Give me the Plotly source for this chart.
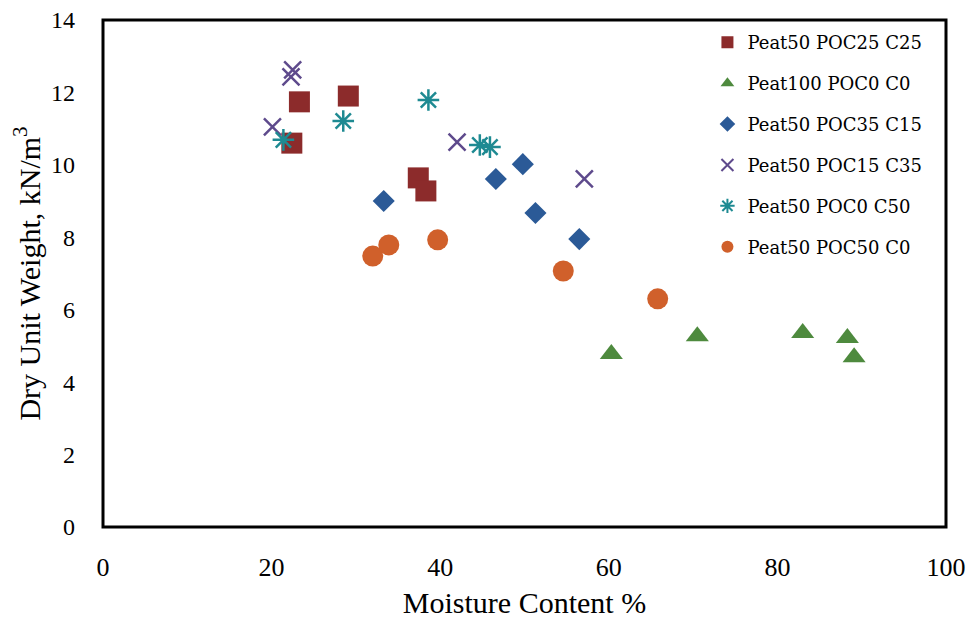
import plotly.graph_objects as go

# ---- data ----
names = ["Peat50 POC25 C25", "Peat100 POC0 C0", "Peat50 POC35 C15",
         "Peat50 POC15 C35", "Peat50 POC0 C50", "Peat50 POC50 C0"]

mc_p50_poc25_c25 = [23.3, 29.1, 22.4, 37.4, 38.3]
dw_p50_poc25_c25 = [11.74, 11.90, 10.60, 9.64, 9.28]

mc_p100_poc0_c0 = [60.3, 70.5, 83.0, 88.3, 89.1]
dw_p100_poc0_c0 = [4.78, 5.27, 5.36, 5.22, 4.69]

mc_p50_poc35_c15 = [33.3, 46.6, 49.8, 51.3, 56.5]
dw_p50_poc35_c15 = [9.00, 9.61, 10.02, 8.67, 7.95]

mc_p50_poc15_c35 = [22.5, 22.3, 20.1, 42.0, 57.1]
dw_p50_poc15_c35 = [12.62, 12.43, 11.05, 10.63, 9.61]

mc_p50_poc0_c50 = [21.4, 28.5, 38.6, 44.7, 45.9]
dw_p50_poc0_c50 = [10.69, 11.21, 11.79, 10.55, 10.49]

mc_p50_poc50_c0 = [32.0, 33.9, 39.7, 54.6, 65.8]
dw_p50_poc50_c0 = [7.48, 7.79, 7.93, 7.07, 6.30]

x_ticks = [0, 20, 40, 60, 80, 100]
y_ticks = [0, 2, 4, 6, 8, 10, 12, 14]

series = [
    (mc_p50_poc25_c25, dw_p50_poc25_c25, "square", 21, "#8C2B2B", 0),
    (mc_p100_poc0_c0, dw_p100_poc0_c0, "triangle-up", 20, "#4E8A3E", 0),
    (mc_p50_poc35_c15, dw_p50_poc35_c15, "diamond", 17, "#2B5A97", 0),
    (mc_p50_poc15_c35, dw_p50_poc15_c35, "x-thin-open", 17, "#5E4A8C", 2.5),
    (mc_p50_poc0_c50, dw_p50_poc0_c50, "asterisk-open", 18, "#1E8A92", 2.5),
    (mc_p50_poc50_c0, dw_p50_poc50_c0, "circle", 21, "#D0602B", 0),
]

fig = go.Figure()
for i, (xs, ys, sym, sz, col, lw) in enumerate(series):
    fig.add_trace(go.Scatter(
        x=xs, y=ys, mode="markers", name=names[i], legendgroup=f"g{i}",
        marker=dict(symbol=sym, size=sz, color=col,
                    line=dict(width=lw, color=col)),
    ))

fig.update_layout(
    width=966, height=614,
    margin=dict(l=95, r=28, t=12, b=95, autoexpand=False),
    paper_bgcolor="white", plot_bgcolor="white",
    font=dict(family="Liberation Serif, Times New Roman, serif", color="black"),
    showlegend=True,
    legend=dict(x=0.717, xanchor="left", y=0.992, yanchor="top",
                bgcolor="rgba(0,0,0,0)", borderwidth=0,
                font=dict(family="DejaVu Serif, serif", size=18, color="black"),
                tracegroupgap=14.5, itemsizing="constant"),
    shapes=[dict(type="rect", xref="paper", yref="paper", x0=0, y0=0, x1=1, y1=1,
                 line=dict(color="black", width=3), layer="above")],
)
fig.update_xaxes(range=[0, 100], tickvals=x_ticks, showgrid=False, zeroline=False,
                 showline=False, ticks="", ticklabelstandoff=22, automargin=False,
                 ticklabeloverflow="allow",
                 tickfont=dict(size=26),
                 title=dict(text="Moisture Content %", font=dict(size=30), standoff=10))
fig.update_yaxes(range=[0, 14], tickvals=y_ticks, showgrid=False, zeroline=False,
                 showline=False, ticks="", ticklabelstandoff=27, automargin=False,
                 ticklabeloverflow="allow",
                 tickfont=dict(size=24),
                 title=dict(text="Dry Unit Weight, kN/m<sup>3</sup>", font=dict(size=30), standoff=12))

fig.write_html("out.html")
